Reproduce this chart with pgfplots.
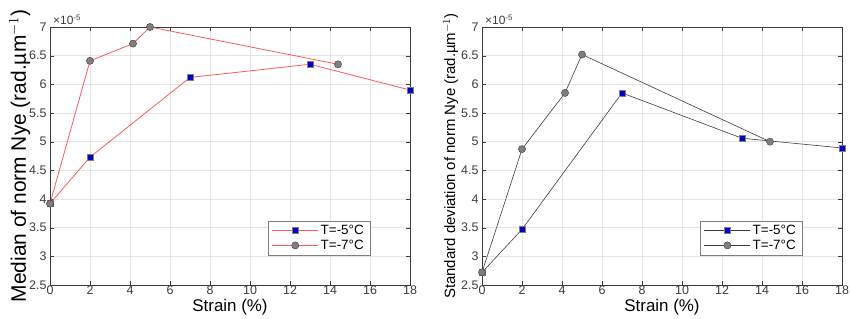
\documentclass[border=0pt]{standalone}
\usepackage{fontspec}
\setmainfont{Liberation Sans}
\usepackage{pgfplots}
\pgfplotsset{compat=1.18}
\definecolor{redl}{HTML}{FF5A5A}
\definecolor{darkl}{HTML}{3C3C3C}
\definecolor{mgray}{HTML}{7F7F7F}
\definecolor{mblue}{HTML}{0000D0}
\pgfplotsset{
  nyebase/.style={
    scale only axis, width=360bp, height=258bp,
    xmin=0, xmax=18, ymin=2.5, ymax=7,
    clip=false,
    xtick={0,2,...,18},
    ytick={2.5,3,3.5,4,4.5,5,5.5,6,6.5,7},
    yticklabels={2.5,3,3.5,4,4.5,5,5.5,6,6.5,7},
    xticklabels={0,2,4,6,8,10,12,14,16,18},
    tick align=inside, ticks=both, tick pos=both,
    major tick length=4bp,
    grid=major, grid style={gray!20, line width=0.5pt},
    axis line style={darkl, line width=0.6pt},
    tick style={darkl},
    ticklabel style={font=\fontsize{12.5}{12.5}\selectfont, text=darkl},
    xticklabel style={yshift=2.5bp},
    xlabel style={font=\fontsize{17}{17}\selectfont, yshift=2.5bp},
    xlabel={Strain (\%)},
    legend style={at={(0.889,0.116)}, anchor=south east, draw=mgray, line width=0.5pt,
      font=\fontsize{13.5}{15}\selectfont, inner xsep=4bp, inner ysep=2bp, row sep=0bp,
      /tikz/every even column/.append style={column sep=2bp}},
    legend cell align=left,
    legend image code/.code={
      \draw[mark repeat=2, mark phase=2, #1] plot coordinates {(0bp,0bp) (23bp,0bp) (46bp,0bp)};
    },
  },
  s5/.style={mark=square*, mark size=3bp, mark options={fill=mblue, draw=mgray, line width=0.4pt, solid}},
  s7/.style={mark=*, mark size=3.6bp, mark options={fill=mgray, draw=darkl, line width=0.4pt, solid}},
  mult/.style={after end axis/.code={\node[anchor=south west, font=\fontsize{12}{12}\selectfont, text=darkl, inner sep=0pt] at (rel axis cs:0,1) [xshift=3bp, yshift=2bp] {×10\textsuperscript{-5}};}},
}
\begin{document}
\begin{tikzpicture}[x=1bp,y=1bp]
\useasboundingbox (0,0) rectangle (850,318);
\begin{axis}[nyebase, mult, at={(50bp,33bp)}, anchor=south west,
  ylabel={Median of norm Nye (rad.µm$^{-1}$)},
  ylabel style={font=\fontsize{21}{21}\selectfont, yshift=-8bp}]
\addplot[redl, line width=0.8pt, s5] coordinates {(0,3.92) (2,4.73) (7,6.12) (13,6.35) (18,5.9)};
\addlegendentry{T=-5°C}
\addplot[redl, line width=0.8pt, s7] coordinates {(0,3.92) (2,6.41) (4.15,6.71) (5,7.0) (14.4,6.35)};
\addlegendentry{T=-7°C}
\end{axis}
\begin{axis}[nyebase, mult, at={(482bp,33bp)}, anchor=south west,
  ylabel={Standard deviation of norm Nye (rad.µm$^{-1}$)},
  ylabel style={font=\fontsize{15}{15}\selectfont, yshift=-4bp}]
\addplot[darkl, line width=0.6pt, s5] coordinates {(0,2.72) (2,3.47) (7,5.85) (13,5.06) (18,4.89)};
\addlegendentry{T=-5°C}
\addplot[darkl, line width=0.6pt, s7] coordinates {(0,2.72) (2,4.87) (4.15,5.85) (5,6.52) (14.4,5.0)};
\addlegendentry{T=-7°C}
\end{axis}
\end{tikzpicture}
\end{document}
